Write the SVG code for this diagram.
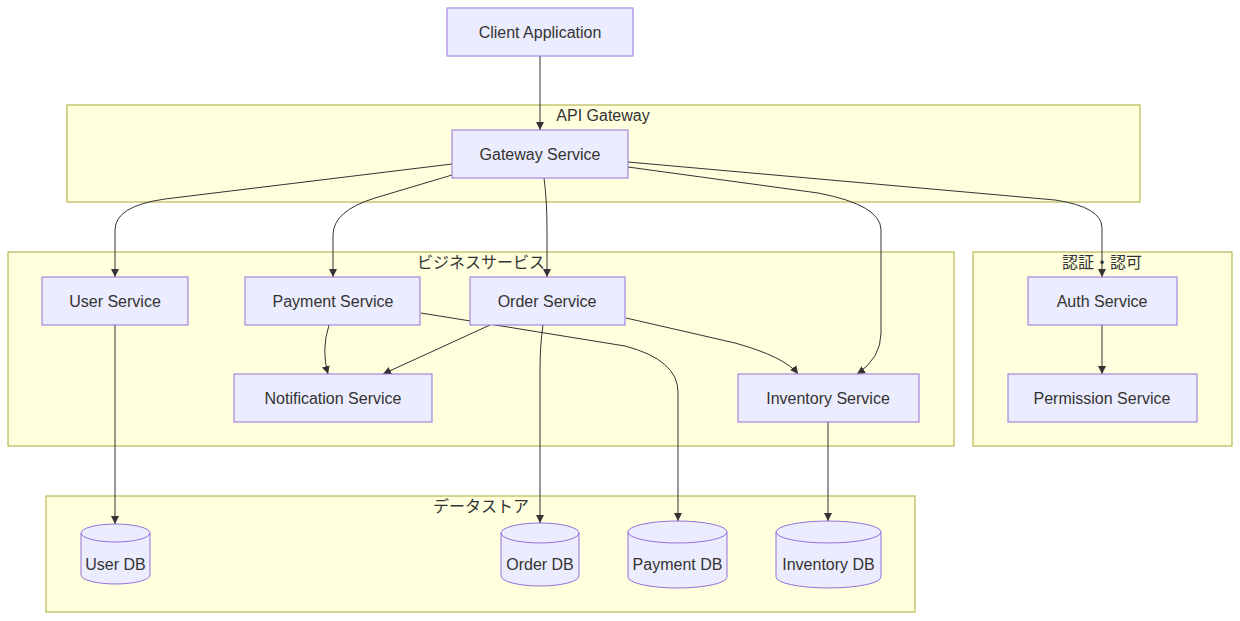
<svg xmlns="http://www.w3.org/2000/svg" width="1240" height="621" viewBox="0 0 1240 621">
<defs>
<style>
.cluster{fill:#ffffde;stroke:#aaaa33;stroke-width:1}
.node{fill:#ECECFF;stroke:#9370DB;stroke-width:1}
.lbl{font-family:"Liberation Sans","Noto Sans CJK JP",sans-serif;font-size:16px;fill:#333333;text-anchor:middle}
.edge{fill:none;stroke:#333333;stroke-width:1}
</style>
<marker id="arrow" viewBox="0 0 10 10" refX="10" refY="5" markerWidth="8" markerHeight="8" markerUnits="userSpaceOnUse" orient="auto">
<path d="M0,0 L10,5 L0,10 z" fill="#333333"/>
</marker>
</defs>
<rect width="1240" height="621" fill="#ffffff"/>

<g id="cluster-api">
<rect class="cluster" x="67" y="105" width="1073" height="97"/>
<text class="lbl" x="603" y="121">API Gateway</text>
</g>
<g id="cluster-business">
<rect class="cluster" x="8" y="252" width="946" height="194"/>
<text class="lbl" x="481" y="268">ビジネスサービス</text>
</g>
<g id="cluster-auth">
<rect class="cluster" x="973" y="252" width="259" height="194"/>
<text class="lbl" x="1102" y="268">認証・認可</text>
</g>
<g id="cluster-data">
<rect class="cluster" x="46" y="496" width="869" height="116"/>
<text class="lbl" x="481" y="512">データストア</text>
</g>

<g id="edges">
<path class="edge" marker-end="url(#arrow)" d="M540,56 L540,130"/>
<path class="edge" marker-end="url(#arrow)" d="M452,164 L165,199 Q115,206 115,230 L115,277"/>
<path class="edge" marker-end="url(#arrow)" d="M452,175 L375,198 Q333,211 333,235 L333,277"/>
<path class="edge" marker-end="url(#arrow)" d="M544,178 Q547,200 547,230 L547,277"/>
<path class="edge" marker-end="url(#arrow)" d="M628,167 L818,193 Q881,205 881,230 L881,333 Q881,358 857,374"/>
<path class="edge" marker-end="url(#arrow)" d="M628,162 L1055,200 Q1102,207 1102,228 L1102,277"/>
<path class="edge" marker-end="url(#arrow)" d="M329,325 Q321,350 328,374"/>
<path class="edge" marker-end="url(#arrow)" d="M490,325 L383,374"/>
<path class="edge" marker-end="url(#arrow)" d="M543,325 Q540,345 540,370 L540,523"/>
<path class="edge" marker-end="url(#arrow)" d="M421,313 L625,346 Q678,360 678,392 L678,521"/>
<path class="edge" marker-end="url(#arrow)" d="M626,318 L735,343 Q785,357 798,374"/>
<path class="edge" marker-end="url(#arrow)" d="M115,325 L115,524"/>
<path class="edge" marker-end="url(#arrow)" d="M828,422 L828,521"/>
<path class="edge" marker-end="url(#arrow)" d="M1102,325 L1102,374"/>
</g>

<g id="client">
<rect class="node" x="447" y="8" width="186" height="48"/>
<text class="lbl" x="540" y="38">Client Application</text>
</g>
<g id="gateway">
<rect class="node" x="452" y="130" width="176" height="48"/>
<text class="lbl" x="540" y="160">Gateway Service</text>
</g>
<g id="user-service">
<rect class="node" x="42" y="277" width="146" height="48"/>
<text class="lbl" x="115" y="307">User Service</text>
</g>
<g id="payment-service">
<rect class="node" x="245" y="277" width="175" height="48"/>
<text class="lbl" x="333" y="307">Payment Service</text>
</g>
<g id="order-service">
<rect class="node" x="470" y="277" width="155" height="48"/>
<text class="lbl" x="547" y="307">Order Service</text>
</g>
<g id="notification-service">
<rect class="node" x="234" y="374" width="198" height="48"/>
<text class="lbl" x="333" y="404">Notification Service</text>
</g>
<g id="inventory-service">
<rect class="node" x="738" y="374" width="181" height="48"/>
<text class="lbl" x="828" y="404">Inventory Service</text>
</g>
<g id="auth-service">
<rect class="node" x="1028" y="277" width="149" height="48"/>
<text class="lbl" x="1102" y="307">Auth Service</text>
</g>
<g id="permission-service">
<rect class="node" x="1008" y="374" width="189" height="48"/>
<text class="lbl" x="1102" y="404">Permission Service</text>
</g>

<g id="user-db">
<path class="node" d="M81,533 a34.5,9 0 0 0 69,0 a34.5,9 0 0 0 -69,0 l0,42 a34.5,9 0 0 0 69,0 l0,-42"/>
<text class="lbl" x="115.5" y="570">User DB</text>
</g>
<g id="order-db">
<path class="node" d="M501,533 a39,10 0 0 0 78,0 a39,10 0 0 0 -78,0 l0,43 a39,10 0 0 0 78,0 l0,-43"/>
<text class="lbl" x="540" y="570">Order DB</text>
</g>
<g id="payment-db">
<path class="node" d="M628,532 a49.5,11 0 0 0 99,0 a49.5,11 0 0 0 -99,0 l0,45 a49.5,11 0 0 0 99,0 l0,-45"/>
<text class="lbl" x="677.5" y="570">Payment DB</text>
</g>
<g id="inventory-db">
<path class="node" d="M776,532 a52.5,11 0 0 0 105,0 a52.5,11 0 0 0 -105,0 l0,45 a52.5,11 0 0 0 105,0 l0,-45"/>
<text class="lbl" x="828.5" y="570">Inventory DB</text>
</g>
</svg>
